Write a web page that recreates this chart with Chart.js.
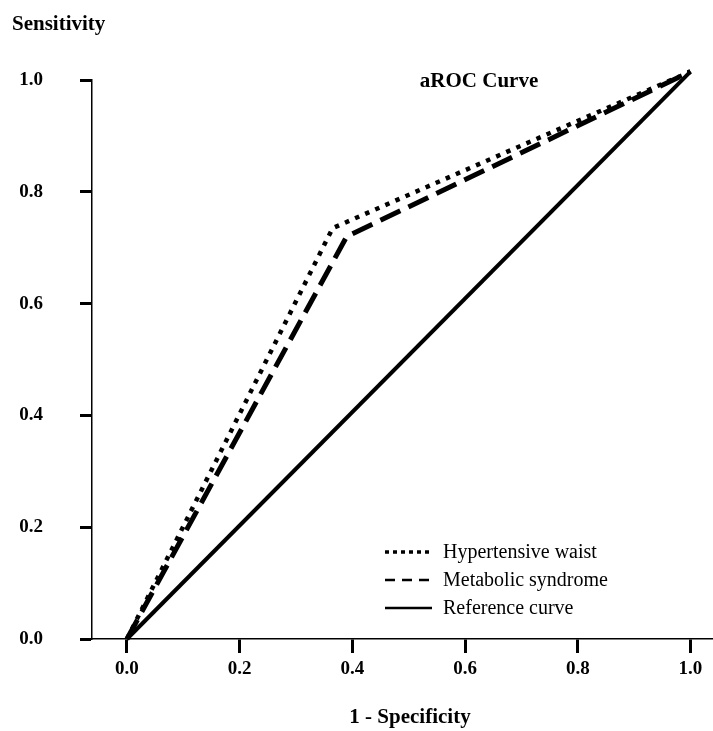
<!DOCTYPE html>
<html>
<head>
<meta charset="utf-8">
<script src="https://cdn.jsdelivr.net/npm/chart.js@4/dist/chart.umd.min.js"></script>
<style>
  html, body { margin: 0; padding: 0; background: #fff; }
  #roc { display: block; }
</style>
</head>
<body>
<canvas id="roc" width="713" height="731"></canvas>
<script>
// ROC curve data (1 - specificity vs sensitivity)
const xTicks = [0, 0.2, 0.4, 0.6, 0.8, 1.0];
const yTicks = [0, 0.2, 0.4, 0.6, 0.8, 1.0];

const waistX = [0, 0.365, 1.0];
const waistY = [0, 0.735, 1.015];

const metsX = [0, 0.39, 1.0];
const metsY = [0, 0.72, 1.015];

const refX = [0, 1.0];
const refY = [0, 1.015];

const seriesLabels = ['Hypertensive waist', 'Metabolic syndrome', 'Reference curve'];

const SERIF = '"Liberation Serif", "DejaVu Serif", serif';

function toPoints(xs, ys) {
  return xs.map((x, i) => ({ x: x, y: ys[i] }));
}

// legend swatch styles, same order as seriesLabels
const legendStyles = [
  { width: 3.5, dash: [4, 4] },
  { width: 2.5, dash: [10, 7] },
  { width: 2.5, dash: [] }
];

// texts that sit outside the axes + the legend box in the lower right
const extraText = {
  id: 'extraText',
  afterDraw(chart) {
    const ctx = chart.ctx;
    ctx.save();
    ctx.fillStyle = '#000';
    ctx.textBaseline = 'middle';

    ctx.font = 'bold 21px ' + SERIF;
    ctx.textAlign = 'left';
    ctx.fillText('Sensitivity', 12, 25);

    ctx.font = 'bold 21px ' + SERIF;
    ctx.textAlign = 'center';
    ctx.fillText('aROC Curve', 479, 82);

    ctx.font = 'bold 21px ' + SERIF;
    ctx.fillText('1 - Specificity', 410, 718);

    // legend
    ctx.font = '20px ' + SERIF;
    ctx.textAlign = 'left';
    seriesLabels.forEach((lbl, i) => {
      const y = 552 + i * 28;
      ctx.beginPath();
      ctx.lineWidth = legendStyles[i].width;
      ctx.setLineDash(legendStyles[i].dash);
      ctx.strokeStyle = '#000';
      ctx.moveTo(385, y);
      ctx.lineTo(432, y);
      ctx.stroke();
      ctx.setLineDash([]);
      ctx.fillText(lbl, 443, y + 1);
    });
    ctx.restore();
  }
};

new Chart(document.getElementById('roc'), {
  type: 'line',
  data: {
    datasets: [
      {
        label: seriesLabels[0],
        data: toPoints(waistX, waistY),
        borderColor: '#000',
        borderWidth: 4.5,
        borderDash: [4.5, 6.5],
        pointRadius: 0,
        tension: 0,
        clip: false
      },
      {
        label: seriesLabels[1],
        data: toPoints(metsX, metsY),
        borderColor: '#000',
        borderWidth: 5,
        borderDash: [22, 9],
        pointRadius: 0,
        tension: 0,
        clip: false
      },
      {
        label: seriesLabels[2],
        data: toPoints(refX, refY),
        borderColor: '#000',
        borderWidth: 4,
        pointRadius: 0,
        tension: 0,
        clip: false
      }
    ]
  },
  options: {
    responsive: false,
    animation: false,
    layout: { padding: { top: 80, right: 0, left: 0, bottom: 0 } },
    plugins: {
      legend: { display: false },
      tooltip: { enabled: false }
    },
    scales: {
      x: {
        type: 'linear',
        min: -0.062,
        max: 1.04,
        afterBuildTicks: s => { s.ticks = xTicks.map(v => ({ value: v })); },
        afterFit: s => { s.height = 92; },
        border: { display: true, color: '#000', width: 1.5 },
        grid: {
          drawOnChartArea: false,
          drawTicks: true,
          tickLength: 14,
          tickWidth: 3,
          tickColor: '#000'
        },
        ticks: {
          color: '#000',
          padding: 5,
          maxRotation: 0,
          font: { family: SERIF, size: 19, weight: 'bold' },
          callback: v => v.toFixed(1)
        }
      },
      y: {
        type: 'linear',
        min: 0,
        max: 1,
        afterBuildTicks: s => { s.ticks = yTicks.map(v => ({ value: v })); },
        afterFit: s => { s.width = 92; },
        border: { display: true, color: '#000', width: 1.5 },
        grid: {
          drawOnChartArea: false,
          drawTicks: true,
          tickLength: 12,
          tickWidth: 3,
          tickColor: '#000'
        },
        ticks: {
          color: '#000',
          padding: 37,
          font: { family: SERIF, size: 19, weight: 'bold' },
          callback: v => v.toFixed(1)
        }
      }
    }
  },
  plugins: [extraText]
});
</script>
</body>
</html>
